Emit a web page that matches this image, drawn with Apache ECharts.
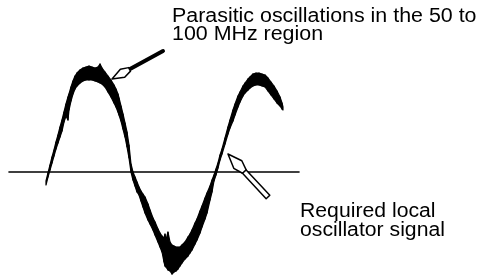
<!DOCTYPE html>
<html lang="en">
<head>
<meta charset="UTF-8">
<title>local oscillator with parasitics</title>
<style>
    html,
    body {
        margin: 0;
        padding: 0;
        width: 100%;
        height: 100%;
        background: #fff;
    }

    #chart {
        width: 483px;
        height: 276px;
    }
</style>
</head>
<body>
<div id="chart"></div>
<script src="https://cdn.jsdelivr.net/npm/echarts@6/dist/echarts.min.js"></script>
<script>
    // phase in degrees, 0 = first rising zero crossing of the LO trace
    const phase = [
        -6.5, -2.2, 2.2, 6.5, 10.8, 15.1, 19.4, 23.8, 28.1, 32.4,
        36.7, 41.0, 43.2, 47.5, 51.8, 56.2, 60.5, 67.0, 73.4, 79.9,
        86.4, 92.9, 99.4, 105.8, 110.2, 114.5, 121.0, 127.4, 133.9, 140.4,
        144.7, 149.0, 151.2, 155.5, 159.8, 164.2, 168.5, 172.8, 177.1, 181.4,
        185.8, 190.1, 194.4, 198.7, 203.0, 207.4, 213.8, 218.2, 224.6, 229.0,
        235.4, 239.8, 244.1, 248.4, 250.6, 252.7, 257.0, 261.4, 265.7, 270.0,
        274.3, 278.6, 283.0, 287.3, 293.8, 300.2, 304.6, 308.9, 315.4, 319.7,
        326.2, 330.5, 337.0, 341.3, 347.8, 352.1, 356.4, 360.7, 365.0, 369.4,
        373.7, 380.2, 386.6, 391.0, 397.4, 401.8, 408.2, 412.6, 419.0, 423.4,
        429.8, 434.2, 440.6, 447.1, 453.6, 460.1, 466.6, 473.0, 479.5, 486.0,
        492.5, 499.0, 503.3, 505.4
    ]

    // top and bottom edge of the trace (the parasitic band), normalised amplitude
    const upper = [
        -0.09, -0.01, 0.07, 0.15, 0.22, 0.30, 0.37, 0.45, 0.52, 0.60,
        0.68, 0.75, 0.78, 0.85, 0.91, 0.96, 0.99, 1.02, 1.04, 1.05,
        1.06, 1.05, 1.04, 1.05, 1.08, 1.04, 1.00, 0.96, 0.92, 0.87,
        0.83, 0.78, 0.74, 0.66, 0.58, 0.49, 0.40, 0.27, 0.08, 0.00,
        -0.05, -0.10, -0.15, -0.19, -0.22, -0.25, -0.32, -0.38, -0.46, -0.50,
        -0.57, -0.61, -0.64, -0.66, -0.62, -0.68, -0.60, -0.70, -0.73, -0.74,
        -0.75, -0.75, -0.75, -0.73, -0.70, -0.65, -0.62, -0.58, -0.51, -0.47,
        -0.39, -0.34, -0.26, -0.21, -0.14, -0.08, -0.03, 0.03, 0.09, 0.17,
        0.23, 0.34, 0.45, 0.52, 0.62, 0.68, 0.76, 0.80, 0.86, 0.89,
        0.93, 0.95, 0.98, 0.99, 0.99, 0.98, 0.97, 0.94, 0.90, 0.86,
        0.81, 0.75, 0.69, 0.65
    ]

    const lower = [
        -0.13, -0.05, 0.02, 0.09, 0.16, 0.23, 0.29, 0.35, 0.41, 0.50,
        0.56, 0.52, 0.62, 0.71, 0.78, 0.83, 0.86, 0.89, 0.91, 0.92,
        0.92, 0.92, 0.91, 0.90, 0.89, 0.88, 0.85, 0.80, 0.75, 0.69,
        0.65, 0.60, 0.57, 0.51, 0.43, 0.35, 0.25, 0.14, 0.00, -0.08,
        -0.14, -0.20, -0.23, -0.29, -0.35, -0.41, -0.48, -0.52, -0.58, -0.63,
        -0.70, -0.75, -0.80, -0.90, -0.94, -0.95, -0.98, -0.99, -1.02, -1.00,
        -0.99, -0.97, -0.94, -0.91, -0.87, -0.84, -0.81, -0.78, -0.72, -0.68,
        -0.61, -0.55, -0.47, -0.41, -0.28, -0.20, -0.09, -0.03, 0.04, 0.12,
        0.18, 0.28, 0.38, 0.44, 0.51, 0.57, 0.65, 0.70, 0.76, 0.79,
        0.82, 0.84, 0.86, 0.87, 0.87, 0.86, 0.85, 0.81, 0.77, 0.73,
        0.69, 0.66, 0.63, 0.62
    ]

    // pointer arrows: tail phase, tail amp, tip phase, tip amp
    const arrows = [
        [246.2, 1.21, 136.1, 0.93],
        [473.0, -0.25, 386.6, 0.18]
    ]

    const notes = [
        'Parasitic oscillations in the 50 to\n100 MHz region',
        'Required local\noscillator signal'
    ]

    // one piece of the trace band per pair of neighbouring samples
    const pieces = []
    for (let i = 0; i < phase.length - 1; i++) {
        pieces.push([phase[i], upper[i], lower[i], phase[i + 1], upper[i + 1], lower[i + 1]])
    }

    const chart = echarts.init(document.getElementById('chart'), null, {renderer: 'canvas'})

    function renderPiece(params, api) {
        const a = api.coord([api.value(0), api.value(1)])
        const b = api.coord([api.value(3), api.value(4)])
        const c = api.coord([api.value(3), api.value(5)])
        const d = api.coord([api.value(0), api.value(2)])
        return {
            type: 'polygon',
            shape: {points: [a, b, c, d]},
            style: {fill: '#000', stroke: '#000', lineWidth: 1.2, lineJoin: 'round'}
        }
    }

    function renderArrow(params, api) {
        const tail = api.coord([api.value(0), api.value(1)])
        const tip = api.coord([api.value(2), api.value(3)])
        const dx = tip[0] - tail[0]
        const dy = tip[1] - tail[1]
        const len = Math.sqrt(dx * dx + dy * dy)
        const ux = dx / len, uy = dy / len
        const nx = -uy, ny = ux

        const hollowShaft = params.dataIndex === 1
        const headLen = hollowShaft ? 24 : 20
        const headW = hollowShaft ? 11 : 9
        const shaftW = hollowShaft ? 5 : 4

        const pt = (along, side) => [tip[0] - ux * along + nx * side, tip[1] - uy * along + ny * side]

        const head = [
            pt(0, 0),
            pt(headLen * 0.6, headW / 2),
            pt(headLen, shaftW / 2),
            pt(headLen, -shaftW / 2),
            pt(headLen * 0.6, -headW / 2)
        ]

        const children = []
        if (hollowShaft) {
            children.push({
                type: 'polygon',
                shape: {points: [pt(headLen - 1, shaftW / 2), pt(len, shaftW / 2), pt(len, -shaftW / 2), pt(headLen - 1, -shaftW / 2)]},
                style: {fill: '#fff', stroke: '#000', lineWidth: 1.5, lineJoin: 'round'}
            })
        } else {
            const s = pt(headLen - 1, 0)
            children.push({
                type: 'line',
                shape: {x1: s[0], y1: s[1], x2: tail[0], y2: tail[1]},
                style: {stroke: '#000', lineWidth: shaftW, lineCap: 'round'}
            })
        }
        children.push({
            type: 'polygon',
            shape: {points: head},
            style: {fill: '#fff', stroke: '#000', lineWidth: 1.5, lineJoin: 'round'}
        })
        return {type: 'group', children}
    }

    chart.setOption({
        animation: false,
        backgroundColor: '#fff',
        grid: {left: 9, right: 184, top: 72, bottom: 4},
        xAxis: {
            type: 'value',
            min: -86.4,
            max: 540,
            axisLine: {show: true, onZero: true, lineStyle: {color: '#000', width: 1.6}},
            axisTick: {show: false},
            axisLabel: {show: false},
            splitLine: {show: false}
        },
        yAxis: {
            type: 'value',
            min: -1,
            max: 1,
            axisLine: {show: false},
            axisTick: {show: false},
            axisLabel: {show: false},
            splitLine: {show: false}
        },
        graphic: [
            {
                type: 'text',
                x: 172,
                y: 7,
                scaleX: 1.07,
                style: {text: notes[0], font: '20px "Liberation Sans", Arial, sans-serif', lineHeight: 18, fill: '#000'}
            },
            {
                type: 'text',
                x: 300,
                y: 202,
                scaleX: 1.06,
                style: {text: notes[1], font: '20px "Liberation Sans", Arial, sans-serif', lineHeight: 19, fill: '#000'}
            }
        ],
        series: [
            {
                name: 'LO trace',
                type: 'custom',
                data: pieces,
                encode: {x: [0, 3], y: [1, 2, 4, 5]},
                clip: false,
                renderItem: renderPiece
            },
            {
                name: 'arrows',
                type: 'custom',
                data: arrows,
                encode: {x: [0, 2], y: [1, 3]},
                clip: false,
                z: 5,
                renderItem: renderArrow
            }
        ]
    })
</script>
</body>
</html>
